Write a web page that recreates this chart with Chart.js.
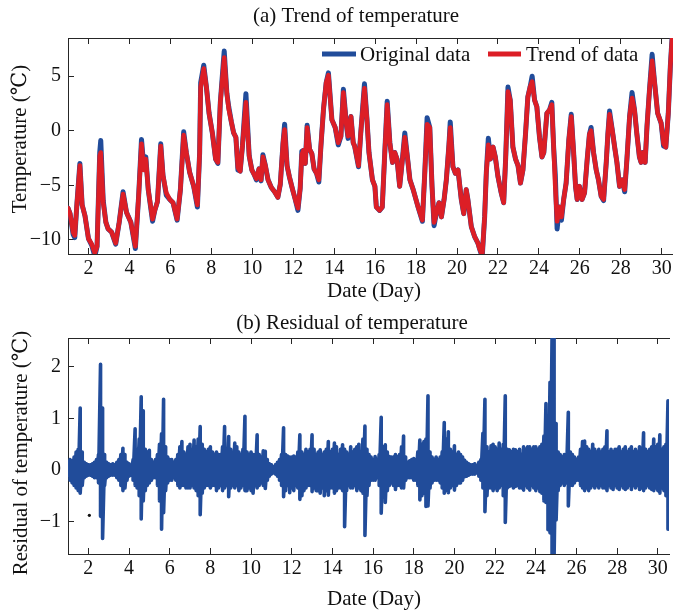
<!DOCTYPE html>
<html>
<head>
<meta charset="utf-8">
<script src="https://cdn.jsdelivr.net/npm/chart.js@4.4.0/dist/chart.umd.min.js"></script>
<style>
  html, body { margin: 0; padding: 0; background: #fff; }
  #wrap { position: relative; width: 673px; height: 611px; }
  #wrap canvas { position: absolute; left: 0; }
</style>
</head>
<body>
<div id="wrap">
  <canvas id="trendChart" width="673" height="305" style="top:0"></canvas>
  <canvas id="residChart" width="673" height="306" style="top:305px"></canvas>
</div>
<script>
// ── Data ─────────────────────────────────────────────────────────
const dayTicks   = [2, 4, 6, 8, 10, 12, 14, 16, 18, 20, 22, 24, 26, 28, 30];
const tempTicks  = [-10, -5, 0, 5];
const residTicks = [-1, 0, 1, 2];

// (a) temperature: sample days, trend and original series
const trendDays = [
  1.0,1.1,1.25,1.33,1.44,1.58,1.69,1.83,2.0,2.16,2.31,2.42,
  2.55,2.6,2.72,2.85,2.96,3.13,3.33,3.5,3.69,3.86,4.07,4.29,
  4.45,4.59,4.7,4.8,4.92,5.13,5.24,5.37,5.53,5.64,5.8,5.97,
  6.13,6.33,6.49,6.65,6.78,6.94,7.14,7.32,7.43,7.48,7.63,7.76,
  7.89,8.05,8.21,8.32,8.44,8.63,8.76,8.85,8.98,9.09,9.2,9.3,
  9.41,9.52,9.69,9.85,9.98,10.09,10.2,10.33,10.43,10.52,10.64,10.77,
  10.93,11.09,11.25,11.37,11.5,11.58,11.7,11.81,11.97,12.1,12.23,12.34,
  12.42,12.5,12.59,12.68,12.8,12.91,13.02,13.14,13.25,13.35,13.48,13.61,
  13.72,13.89,14.05,14.2,14.33,14.45,14.6,14.68,14.82,14.93,15.0,15.19,
  15.3,15.48,15.6,15.7,15.87,15.99,16.06,16.22,16.35,16.47,16.59,16.72,
  16.85,16.96,17.07,17.2,17.32,17.45,17.57,17.7,17.86,18.1,18.31,18.43,
  18.54,18.67,18.78,18.88,18.99,19.12,19.24,19.37,19.48,19.61,19.67,19.8,
  19.92,20.05,20.21,20.33,20.45,20.53,20.7,20.86,21.02,21.1,21.23,21.35,
  21.43,21.53,21.63,21.76,21.87,22.0,22.16,22.28,22.38,22.49,22.6,22.73,
  22.86,22.98,23.1,23.22,23.35,23.46,23.57,23.67,23.79,23.9,24.03,24.15,
  24.24,24.39,24.52,24.63,24.72,24.8,24.89,25.0,25.1,25.21,25.33,25.46,
  25.58,25.69,25.79,25.87,25.98,26.11,26.23,26.36,26.47,26.55,26.67,26.8,
  26.91,27.04,27.16,27.29,27.37,27.45,27.58,27.7,27.81,27.94,28.07,28.19,
  28.3,28.43,28.55,28.67,28.78,28.91,28.99,29.07,29.19,29.28,29.4,29.53,
  29.64,29.8,29.97,30.09,30.2,30.32,30.42,30.52
];
const trendVals = [
  -7.1,-7.6,-9.3,-9.6,-6.6,-3.2,-6.8,-7.8,-9.9,-10.4,-11.2,-10.6,
  -2.3,-2.0,-6.6,-8.4,-9.0,-9.3,-10.3,-8.4,-5.8,-7.5,-8.4,-10.6,
  -6.0,-1.2,-3.6,-2.6,-5.4,-8.1,-7.3,-6.5,-1.4,-4.1,-5.7,-6.3,
  -6.6,-8.1,-5.4,-0.4,-2.0,-3.8,-5.1,-6.8,-2.0,4.0,5.7,4.0,
  1.6,-0.2,-2.6,-2.9,2.6,6.7,3.4,2.0,0.8,-0.2,-0.6,-3.4,
  -3.7,-1.4,2.6,-2.3,-3.6,-4.0,-4.4,-3.5,-4.5,-2.4,-3.2,-4.5,
  -5.2,-5.6,-6.1,-4.9,-1.2,0.1,-3.2,-4.2,-5.4,-6.3,-7.1,-5.3,
  -2.2,-1.8,-3.0,0.3,-1.7,-2.1,-3.5,-3.9,-4.5,-1.5,2.0,4.4,
  5.1,1.0,0.3,-1.1,-0.5,3.5,0.5,-0.5,1.3,-1.1,-1.4,-3.2,
  -0.2,3.9,1.1,-2.0,-4.5,-5.1,-7.0,-7.3,-7.0,-2.1,2.4,-1.1,
  -2.9,-2.0,-2.6,-5.1,-2.9,-0.6,-2.3,-4.5,-5.4,-7.0,-8.2,-3.7,
  0.6,0.3,-5.1,-8.4,-7.6,-6.6,-7.9,-6.3,-4.5,-1.2,0.3,-3.3,
  -3.9,-3.6,-6.3,-7.6,-5.4,-6.3,-8.8,-9.7,-10.3,-10.8,-11.4,-7.9,
  -3.9,-1.3,-2.6,-1.5,-2.4,-4.2,-5.7,-6.6,-2.4,3.6,2.8,-1.5,
  -2.6,-3.2,-4.8,-3.6,-0.2,3.1,4.0,4.5,2.8,2.2,-0.6,-2.4,
  -2.0,1.6,1.9,2.4,-1.5,-5.1,-8.3,-7.0,-7.9,-6.3,-4.8,-0.9,
  1.3,-1.8,-5.1,-6.3,-5.1,-6.3,-5.7,-2.6,-0.3,0.0,-2.0,-3.6,
  -4.5,-6.0,-6.3,-2.9,-0.3,1.5,0.1,-1.5,-2.9,-5.1,-4.5,-5.4,
  -2.6,1.3,3.0,1.9,-0.2,-2.4,-2.9,-2.0,-2.9,0.4,3.7,6.4,
  4.6,1.6,0.7,-1.2,-1.5,1.6,5.9,8.8
];
const origVals = [
  -7.1,-7.6,-9.5,-9.8,-6.6,-3.0,-6.8,-7.8,-9.9,-10.5,-11.5,-10.6,
  -2.0,-0.9,-6.4,-8.4,-9.0,-9.3,-10.4,-8.4,-5.6,-7.5,-8.4,-10.8,
  -6.0,-0.8,-3.3,-2.4,-5.4,-8.3,-7.3,-6.5,-1.2,-4.1,-5.9,-6.3,
  -6.6,-8.2,-5.4,-0.1,-2.0,-3.8,-5.1,-7.0,-2.0,4.4,6.0,4.0,
  1.6,-0.2,-2.6,-3.0,2.6,7.3,3.4,2.2,0.8,-0.2,-0.6,-3.6,
  -3.7,-1.4,3.4,-2.3,-3.6,-4.0,-4.5,-3.5,-4.6,-2.2,-3.2,-4.5,
  -5.2,-5.6,-6.1,-4.9,-1.2,0.6,-3.2,-4.2,-5.4,-6.3,-7.3,-5.3,
  -1.9,-1.8,-3.0,0.5,-1.7,-2.1,-3.5,-3.9,-4.7,-1.5,2.0,4.4,
  5.3,1.0,0.3,-1.3,-0.5,3.8,0.5,-0.7,1.3,-1.1,-1.4,-3.3,
  -0.2,4.3,1.1,-2.0,-4.5,-5.1,-7.0,-7.3,-7.0,-2.1,2.7,-1.1,
  -2.9,-2.0,-2.6,-5.1,-2.9,-0.2,-2.3,-4.5,-5.4,-7.0,-8.3,-3.7,
  1.2,0.3,-5.1,-8.7,-7.6,-6.6,-7.9,-6.3,-4.5,-1.2,0.8,-3.3,
  -3.9,-3.6,-6.3,-7.6,-5.4,-6.3,-8.8,-9.7,-10.3,-10.8,-11.6,-7.9,
  -3.9,-0.7,-2.6,-1.5,-2.4,-4.2,-5.7,-6.6,-2.4,4.0,2.8,-1.5,
  -2.6,-3.2,-4.8,-3.6,-0.2,3.1,4.0,5.0,2.8,2.2,-0.6,-2.4,
  -2.0,1.6,1.9,2.6,-1.5,-4.0,-9.0,-7.0,-8.2,-6.3,-4.8,-0.9,
  1.5,-1.8,-5.1,-6.3,-5.1,-6.3,-5.7,-2.6,-0.3,0.3,-2.0,-3.6,
  -4.5,-6.0,-6.4,-2.9,-0.3,1.8,0.1,-1.5,-2.9,-5.1,-4.5,-5.6,
  -2.6,1.3,3.5,1.9,-0.2,-2.4,-2.9,-2.0,-2.9,0.4,3.7,7.0,
  4.6,1.6,0.7,-1.4,-1.5,1.6,5.9,9.0
];

// (b) residual: upper / lower excursion every 0.1 day from day 1.0
const RES_START = 1.0, RES_STEP = 0.1;
const resHigh = [
  .15,.2,.18,.25,.35,.4,1.2,.35,.15,.12,
  .1,.1,.12,.15,.2,.3,2.05,1.2,.3,.15,
  .12,.1,.12,.1,.15,.2,.3,.42,.3,.15,
  .12,.1,.2,.8,.4,.6,1.42,1.15,.4,.35,
  .38,.2,.15,.2,.3,.5,.7,1.37,.45,.25,
  .2,.2,.15,.2,.3,.45,.55,.35,.3,.45,
  .5,.4,.58,.45,.6,.84,.5,.4,.35,.4,
  .45,.35,.3,.35,.3,.3,.45,.84,.4,.65,
  .4,.35,.52,.45,.35,.3,.4,1.04,.35,.3,
  .35,.3,.3,.68,.3,.25,.37,.36,.2,.12,
  .1,.06,.1,.15,.2,.3,.82,.3,.27,.25,
  .25,.27,.25,.35,.68,.35,.3,.4,.35,.4,
  .68,.4,.3,.35,.39,.3,.35,.4,.55,.35,
  .4,.52,.45,.3,.4,.49,.4,.35,.3,.45,
  .35,.4,.45,.5,.35,.6,.85,.4,.3,.25,
  .2,.26,.2,.3,1.02,.45,.49,.35,.26,.25,
  .25,.3,.25,.3,.45,.66,.25,.15,.18,.2,
  .22,.2,.35,.58,.5,.55,.6,1.44,.35,.25,
  .2,.25,.2,.25,.35,.92,.6,.74,.4,.35,
  .47,.3,.35,.3,.25,.19,.15,.12,.1,.1,
  .12,.08,.15,.2,.71,1.37,.45,.35,.47,.5,
  .45,.4,.52,.4,.5,1.44,.4,.39,.35,.4,
  .39,.35,.4,.3,.45,.4,.45,.45,.4,.45,
  .45,.4,.45,.5,.66,1.29,1.0,1.7,2.6,2.6,
  .9,.35,.3,.25,.3,.3,1.12,.35,.3,.25,
  .2,.25,.4,.55,.56,.45,.4,.35,.5,.4,
  .35,.4,.35,.4,.45,.76,.35,.4,.35,.4,
  .4,.45,.35,.4,.45,.35,.4,.45,.35,.4,
  .35,.45,.4,.72,.4,.35,.4,.45,.6,.45,
  .5,.68,.4,.45,.5,1.34,.4
];
const resLow = [
  -.1,-.2,-.25,-.3,-.35,-.4,-.45,-.3,-.15,-.12,
  -.1,-.1,-.12,-.15,-.15,-.25,-.9,-1.33,-.3,-.15,
  -.12,-.1,-.1,-.1,-.15,-.2,-.3,-.4,-.35,-.2,
  -.12,-.1,-.2,-.3,-.35,-.5,-.95,-.6,-.4,-.3,
  -.25,-.2,-.15,-.15,-.3,-.6,-1.15,-.83,-.4,-.25,
  -.2,-.2,-.15,-.2,-.3,-.35,-.3,-.3,-.35,-.35,
  -.35,-.3,-.35,-.4,-.5,-.87,-.45,-.35,-.3,-.3,
  -.35,-.3,-.3,-.4,-.35,-.3,-.4,-.35,-.3,-.52,
  -.35,-.3,-.35,-.3,-.4,-.35,-.3,-.4,-.4,-.35,
  -.4,-.45,-.3,-.35,-.3,-.25,-.3,-.36,-.2,-.12,
  -.08,-.06,-.08,-.12,-.2,-.3,-.52,-.4,-.3,-.44,
  -.35,-.4,-.3,-.35,-.57,-.5,-.4,-.35,-.3,-.3,
  -.42,-.35,-.4,-.4,-.45,-.35,-.5,-.4,-.49,-.35,
  -.35,-.45,-.4,-.35,-.35,-.4,-1.1,-.4,-.3,-.35,
  -.35,-.3,-.4,-.35,-.4,-.45,-1.27,-.5,-.3,-.2,
  -.2,-.2,-.15,-.3,-.84,-.35,-.63,-.4,-.3,-.25,
  -.3,-.38,-.3,-.3,-.35,-.35,-.2,-.15,-.15,-.15,
  -.2,-.2,-.3,-.58,-.5,-.45,-.71,-.7,-.35,-.25,
  -.2,-.2,-.2,-.25,-.35,-.45,-.4,-.44,-.35,-.3,
  -.39,-.3,-.25,-.25,-.2,-.13,-.12,-.1,-.08,-.08,
  -.08,-.06,-.12,-.2,-.35,-.81,-.5,-.35,-.35,-.4,
  -.35,-.4,-.35,-.3,-.5,-1.02,-.35,-.32,-.3,-.35,
  -.32,-.3,-.35,-.35,-.39,-.3,-.35,-.39,-.3,-.35,
  -.4,-.35,-.42,-.45,-.6,-.63,-1.16,-1.22,-1.67,-1.67,
  -.97,-.4,-.3,-.25,-.3,-.25,-.7,-.3,-.3,-.25,
  -.2,-.2,-.3,-.35,-.4,-.35,-.4,-.35,-.3,-.35,
  -.3,-.35,-.3,-.35,-.35,-.4,-.3,-.35,-.38,-.3,
  -.35,-.38,-.3,-.35,-.38,-.35,-.3,-.38,-.3,-.35,
  -.3,-.38,-.35,-.4,-.35,-.3,-.35,-.38,-.4,-.35,
  -.4,-.45,-.35,-.4,-.5,-1.15,-.4
];
// stray marker below the band near day 2
const dotDays = [2.05];
const dotVals = [-0.88];

// ── Styling ──────────────────────────────────────────────────────
const FONT = '"Liberation Serif", "DejaVu Serif", "Times New Roman", serif';
const INK  = '#262626';
const BLUE = '#214C9A';
const RED  = '#DC1E26';
const DAY_MIN = 1, DAY_MAX = 30.55;

const minusFmt = v => (v < 0 ? '\u2212' + Math.abs(v) : String(v));
const setTicks = vals => s => { s.ticks = vals.map(v => ({ value: v })); };
const noPad = s => { s.paddingLeft = s.paddingRight = s.paddingTop = s.paddingBottom = 0; };

function buildScales(yMin, yMax, yTicks, xAxisH) {
  const grid = { drawOnChartArea: false, tickLength: -6, tickColor: INK, tickWidth: 1 };
  const border = { color: INK, width: 1 };
  const tickFont = { family: FONT, size: 20 };
  return {
    x: {
      type: 'linear', position: 'bottom', min: DAY_MIN, max: DAY_MAX,
      afterBuildTicks: setTicks(dayTicks),
      afterFit: s => { s.height = xAxisH; noPad(s); },
      grid, border,
      ticks: { font: tickFont, color: '#111', padding: 9, maxRotation: 0, autoSkip: false, callback: v => String(v) }
    },
    xTop: {
      type: 'linear', position: 'top', min: DAY_MIN, max: DAY_MAX,
      afterBuildTicks: setTicks(dayTicks),
      afterFit: s => { s.height = 0; noPad(s); },
      grid, border,
      ticks: { display: false }
    },
    y: {
      type: 'linear', position: 'left', min: yMin, max: yMax,
      afterBuildTicks: setTicks(yTicks),
      afterFit: s => { s.width = 68; noPad(s); },
      grid, border,
      ticks: { font: tickFont, color: '#111', padding: 13, callback: minusFmt }
    }
  };
}

// ── Titles / axis labels drawn on the canvas ─────────────────────
const panelText = {
  id: 'panelText',
  afterDraw(chart, args, o) {
    const ctx = chart.ctx;
    ctx.save();
    ctx.fillStyle = '#111';
    ctx.font = `21px ${FONT}`;
    ctx.textAlign = 'center';
    ctx.textBaseline = 'middle';
    ctx.fillText(o.title, o.titleX, o.titleY);
    ctx.fillText(o.xLabel, o.xLabelX, o.xLabelY);
    ctx.translate(o.yLabelX, o.yLabelY);
    ctx.rotate(-Math.PI / 2);
    ctx.fillText(o.yLabel, 0, 0);
    ctx.restore();
  }
};

// ── Line legend inside the top plot ──────────────────────────────
const lineLegend = {
  id: 'lineLegend',
  afterDraw(chart, args, o) {
    if (!o.items) return;
    const ctx = chart.ctx;
    ctx.save();
    ctx.font = `21px ${FONT}`;
    ctx.textAlign = 'left';
    ctx.textBaseline = 'middle';
    o.items.forEach(it => {
      const ds = chart.data.datasets[it.dataset];
      ctx.strokeStyle = ds.borderColor;
      ctx.lineWidth = 5;
      ctx.beginPath();
      ctx.moveTo(it.x0, o.y);
      ctx.lineTo(it.x1, o.y);
      ctx.stroke();
      ctx.fillStyle = '#111';
      ctx.fillText(ds.label, it.tx, o.y + 1);
    });
    ctx.restore();
  }
};

// ── (a) Trend of temperature ─────────────────────────────────────
new Chart(document.getElementById('trendChart'), {
  type: 'line',
  data: {
    datasets: [
      {
        label: 'Trend of data',
        data: trendDays.map((d, i) => ({ x: d, y: trendVals[i] })),
        borderColor: RED, borderWidth: 4.6, pointRadius: 0,
        borderJoinStyle: 'round', borderCapStyle: 'round', clip: 0
      },
      {
        label: 'Original data',
        data: trendDays.map((d, i) => ({ x: d, y: origVals[i] })),
        borderColor: BLUE, borderWidth: 5, pointRadius: 0,
        borderJoinStyle: 'round', borderCapStyle: 'round', clip: 0
      }
    ]
  },
  options: {
    responsive: false,
    animation: false,
    layout: { padding: { top: 38, left: 0, right: 0, bottom: 0 } },
    scales: buildScales(-11.3, 8.5, tempTicks, 51),
    plugins: {
      legend: { display: false },
      tooltip: { enabled: false },
      panelText: {
        title: '(a) Trend of temperature', titleX: 356, titleY: 16,
        xLabel: 'Date (Day)', xLabelX: 374, xLabelY: 291,
        yLabel: 'Temperature (\u2103)', yLabelX: 20, yLabelY: 139
      },
      lineLegend: {
        y: 54,
        items: [
          { dataset: 1, x0: 322, x1: 356, tx: 360 },
          { dataset: 0, x0: 488, x1: 521, tx: 526 }
        ]
      }
    }
  },
  plugins: [panelText, lineLegend]
});

// ── (b) Residual of temperature ──────────────────────────────────
const resPoints = [];
resHigh.forEach((hi, i) => {
  const d = +(RES_START + i * RES_STEP).toFixed(2);
  resPoints.push({ x: d, y: hi }, { x: d, y: resLow[i] });
});

new Chart(document.getElementById('residChart'), {
  type: 'line',
  data: {
    datasets: [
      {
        label: 'Residual',
        data: resPoints,
        borderColor: BLUE, borderWidth: 3.6, pointRadius: 0,
        borderJoinStyle: 'round', clip: 0
      },
      {
        label: 'marker',
        data: dotDays.map((d, i) => ({ x: d, y: dotVals[i] })),
        showLine: false, pointRadius: 1.6, pointBorderWidth: 0,
        pointBackgroundColor: '#111', borderColor: '#111'
      }
    ]
  },
  options: {
    responsive: false,
    animation: false,
    layout: { padding: { top: 33, left: 0, right: 0, bottom: 0 } },
    scales: buildScales(-1.63, 2.56, residTicks, 57),
    plugins: {
      legend: { display: false },
      tooltip: { enabled: false },
      panelText: {
        title: '(b) Residual of temperature', titleX: 352, titleY: 18,
        xLabel: 'Date (Day)', xLabelX: 374, xLabelY: 294,
        yLabel: 'Residual of temperature (\u2103)', yLabelX: 21, yLabelY: 148
      }
    }
  },
  plugins: [panelText]
});
</script>
</body>
</html>
